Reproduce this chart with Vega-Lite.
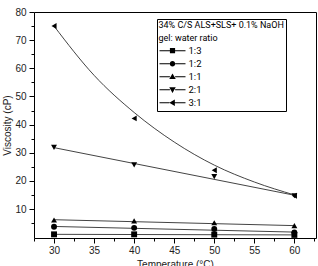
{
"$schema": "https://vega.github.io/schema/vega-lite/v6.json",
"width": 282, "height": 226,
"autosize": {"type": "none"},
"padding": {"left": 34, "top": 12, "right": 2, "bottom": 28},
"config": {
  "view": {"stroke": "black", "strokeWidth": 1},
  "axis": {"grid": false, "domainColor": "black", "tickColor": "black", "labelFont": "Liberation Sans", "labelFontSize": 10, "labelColor": "#222", "titleFont": "Liberation Sans", "titleFontSize": 10, "titleFontWeight": "normal", "titleColor": "#222"}
},
"datasets": {
  "pts": [
    {"series": "1:3", "x": 30, "y": 1.0}, {"series": "1:3", "x": 40, "y": 1.0}, {"series": "1:3", "x": 50, "y": 0.9}, {"series": "1:3", "x": 60, "y": 0.8},
    {"series": "1:2", "x": 30, "y": 3.7}, {"series": "1:2", "x": 40, "y": 3.3}, {"series": "1:2", "x": 50, "y": 2.9}, {"series": "1:2", "x": 60, "y": 1.7},
    {"series": "1:1", "x": 30, "y": 6.1}, {"series": "1:1", "x": 40, "y": 5.8}, {"series": "1:1", "x": 50, "y": 5.1}, {"series": "1:1", "x": 60, "y": 4.1},
    {"series": "2:1", "x": 30, "y": 31.9}, {"series": "2:1", "x": 40, "y": 25.7}, {"series": "2:1", "x": 50, "y": 21.5}, {"series": "2:1", "x": 60, "y": 14.7},
    {"series": "3:1", "x": 30, "y": 75}, {"series": "3:1", "x": 40, "y": 42.2}, {"series": "3:1", "x": 50, "y": 23.8}, {"series": "3:1", "x": 60, "y": 14.7}
  ],
  "fit": [
    {"series": "1:3", "x": 30, "y": 1.0}, {"series": "1:3", "x": 60, "y": 0.8},
    {"series": "1:2", "x": 30, "y": 3.8}, {"series": "1:2", "x": 60, "y": 1.8},
    {"series": "1:1", "x": 30, "y": 6.2}, {"series": "1:1", "x": 60, "y": 4.1},
    {"series": "2:1", "x": 30, "y": 31.8}, {"series": "2:1", "x": 60, "y": 14.9},
    {"series": "3:1", "x": 30, "y": 75}, {"series": "3:1", "x": 35, "y": 57.5}, {"series": "3:1", "x": 40, "y": 44.3}, {"series": "3:1", "x": 45, "y": 33.8}, {"series": "3:1", "x": 50, "y": 25.6}, {"series": "3:1", "x": 55, "y": 19.6}, {"series": "3:1", "x": 60, "y": 15}
  ]
},
"layer": [
  {
    "data": {"name": "pts"},
    "mark": {"type": "point", "opacity": 0},
    "encoding": {
      "x": {"field": "x", "type": "quantitative", "scale": {"domain": [27.5, 62.7], "nice": false, "zero": false},
        "axis": {"orient": "bottom", "values": [27.5, 32.5, 37.5, 42.5, 47.5, 52.5, 57.5, 62.5], "labels": false, "tickSize": 3, "domain": false, "title": null}},
      "y": {"field": "y", "type": "quantitative", "scale": {"domain": [-0.3, 80], "nice": false, "zero": false},
        "axis": {"orient": "left", "values": [5, 15, 25, 35, 45, 55, 65, 75], "labels": false, "tickSize": 3, "domain": false, "title": null}}
    }
  },
  {
    "data": {"name": "fit"},
    "mark": {"type": "line", "color": "#444", "strokeWidth": 1, "interpolate": "monotone"},
    "encoding": {
      "x": {"field": "x", "type": "quantitative",
        "axis": {"orient": "bottom", "values": [30, 35, 40, 45, 50, 55, 60], "tickSize": 5, "labelPadding": 2, "domain": false, "title": "Temperature (°C)", "titlePadding": 4}},
      "y": {"field": "y", "type": "quantitative",
        "axis": {"orient": "left", "values": [10, 20, 30, 40, 50, 60, 70, 80], "tickSize": 5, "labelPadding": 3, "domain": false, "title": "Viscosity (cP)", "titlePadding": 2}},
      "detail": {"field": "series"}
    }
  },
  {
    "data": {"name": "pts"},
    "mark": {"type": "point", "filled": true, "color": "black", "size": 35, "opacity": 1},
    "encoding": {
      "x": {"field": "x", "type": "quantitative", "axis": null},
      "y": {"field": "y", "type": "quantitative", "axis": null},
      "shape": {"field": "series", "type": "nominal",
        "scale": {"domain": ["1:3", "1:2", "1:1", "2:1", "3:1"], "range": ["square", "circle", "triangle-up", "triangle-down", "triangle-left"]},
        "legend": null
      }
    }
  },
  {
    "data": {"name": "pts"},
    "mark": {"type": "point", "filled": true, "color": "black", "opacity": 0},
    "encoding": {
      "x": {"field": "x", "type": "quantitative", "axis": null},
      "y": {"field": "y", "type": "quantitative", "axis": null},
      "shape": {"field": "series", "type": "nominal",
        "scale": {"domain": ["1:3", "1:2", "1:1", "2:1", "3:1"], "range": [
          "M-1,-0.04H-0.2V0.04H-1ZM0.2,-0.04H1V0.04H0.2ZM-0.2,-0.2H0.2V0.2H-0.2Z",
          "M-1,-0.04H-0.21V0.04H-1ZM0.21,-0.04H1V0.04H0.21ZM-0.21,0A0.21,0.21 0 1,0 0.21,0A0.21,0.21 0 1,0 -0.21,0Z",
          "M-1,-0.04H-0.2V0.04H-1ZM0.2,-0.04H1V0.04H0.2ZM0,-0.25L0.25,0.18H-0.25Z",
          "M-1,-0.04H-0.2V0.04H-1ZM0.2,-0.04H1V0.04H0.2ZM0,0.25L0.25,-0.18H-0.25Z",
          "M-1,-0.04H-0.24V0.04H-1ZM0.18,-0.04H1V0.04H0.18ZM-0.25,0L0.18,-0.25V0.25Z"]},
        "legend": {
          "orient": "none", "legendX": 123, "legendY": 7,
          "title": ["34% C/S ALS+SLS+ 0.1% NaOH", "gel: water ratio"],
          "titleFont": "Roboto", "titleFontSize": 9, "titleFontWeight": "normal", "titleColor": "black", "titlePadding": 2, "titleLineHeight": 13,
          "labelFont": "Roboto", "labelFontSize": 9.5, "labelColor": "black", "labelOffset": 2,
          "strokeColor": "black", "fillColor": "white", "padding": 1.5,
          "symbolSize": 676, "clipHeight": 12.4, "rowPadding": 0, "symbolOpacity": 1,
          "symbolFillColor": "black"
        }
      }
    }
  }
],
"resolve": {"axis": {"x": "independent", "y": "independent"}, "scale": {"shape": "independent"}}
}
